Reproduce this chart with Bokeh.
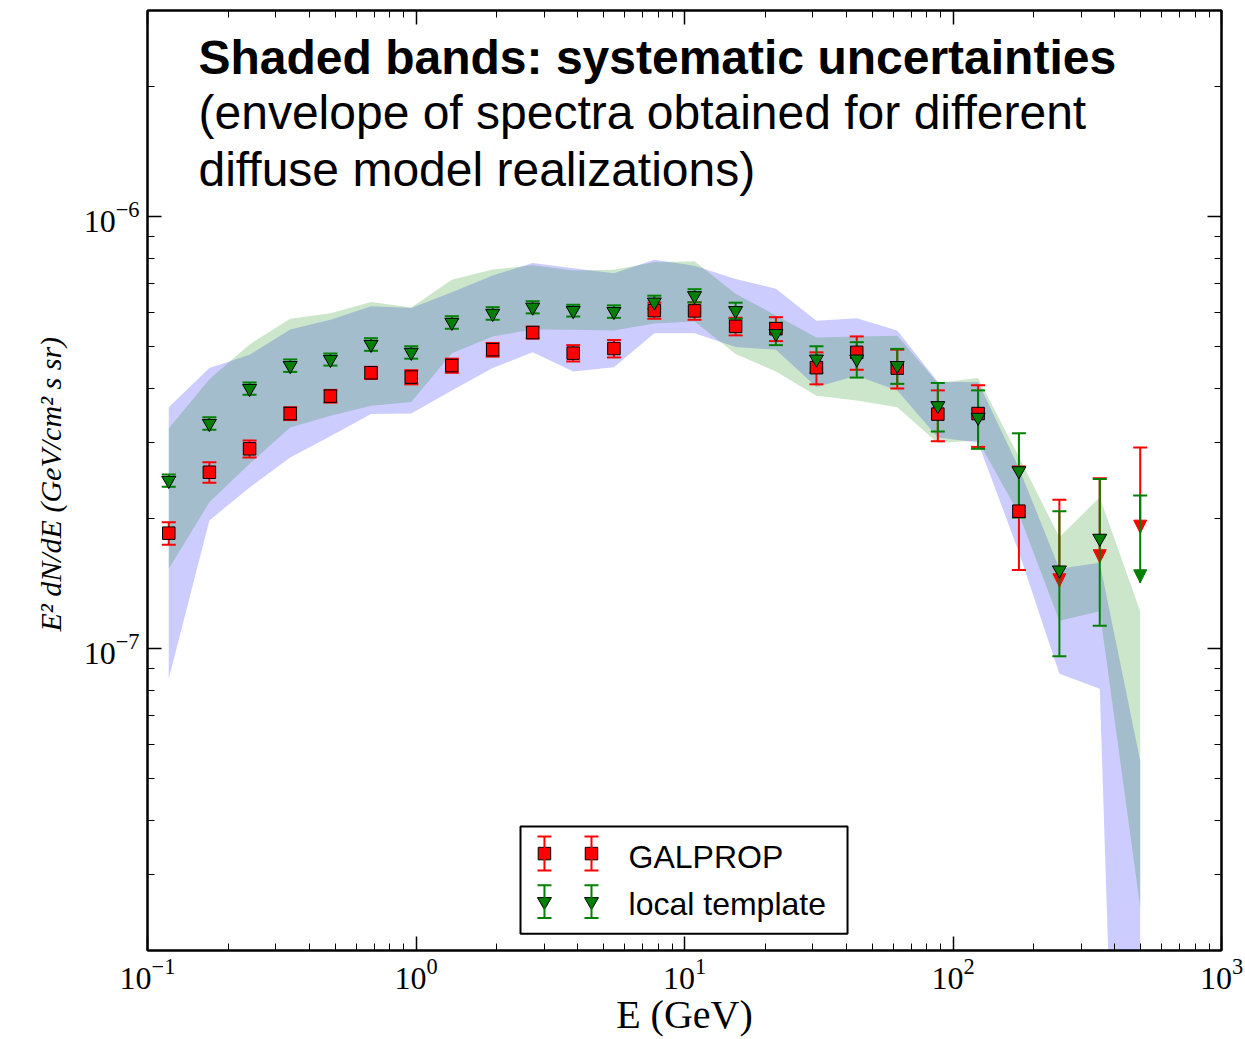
import numpy as np
from bokeh.plotting import figure
from bokeh.models import (ColumnDataSource, Whisker, TeeHead, NormalHead, Label, BoxAnnotation,
                          LogAxis, FixedTicker, CustomJSTickFormatter, Range1d)
from bokeh.embed import file_html
from bokeh.resources import INLINE

# ---------------- data (flux values in units of 1e-7 GeV cm^-2 s^-1 sr^-1) ----------------
FLUX_UNIT = 1e-7
energy = [0.12, 0.17, 0.24, 0.34, 0.48, 0.68, 0.96, 1.36, 1.93, 2.72, 3.85, 5.46, 7.72,
          10.9, 15.5, 21.9, 31.0, 43.8, 62.0, 87.8, 124.0, 176.0, 249.0, 352.0, 498.0]

# GALPROP data points (first 22 bins) + upper limits (last 3 bins)
galprop_flux = [1.85, 2.56, 2.90, 3.50, 3.84, 4.35, 4.25, 4.52, 4.92, 5.39, 4.83, 4.95, 6.06,
                6.05, 5.57, 5.50, 4.47, 4.85, 4.46, 3.49, 3.50, 2.08]
galprop_err = [0.11, 0.14, 0.13, 0.12, 0.13, 0.14, 0.16, 0.17, 0.18, 0.17, 0.21, 0.23, 0.26,
               0.28, 0.26, 0.35, 0.38, 0.43, 0.46, 0.47, 0.57, 0.56]
galprop_ul_energy = [249.0, 352.0, 498.0]
galprop_ul = [2.21, 2.48, 2.92]
galprop_ul_tip = [1.39, 1.58, 1.85]

# local template data points (first 24 bins) + upper limit (last bin)
local_flux = [2.45, 3.32, 4.00, 4.52, 4.67, 5.06, 4.85, 5.69, 5.97, 6.17, 6.06, 6.03, 6.34,
              6.56, 6.06, 5.36, 4.68, 4.68, 4.52, 3.65, 3.43, 2.58, 1.52, 1.80]
local_err = [0.08, 0.11, 0.13, 0.15, 0.15, 0.17, 0.16, 0.19, 0.20, 0.20, 0.19, 0.20, 0.22,
             0.23, 0.26, 0.32, 0.33, 0.44, 0.42, 0.47, 0.53, 0.57, 0.56, 0.67]
local_ul_energy = [498.0]
local_ul = [2.26]
local_ul_tip = [1.42]

# systematic bands (envelopes)
galprop_band_hi = [3.62, 4.46, 4.79, 5.48, 5.77, 6.20, 6.14, 6.68, 7.31, 7.81, 7.59, 7.39, 7.94,
                   7.70, 7.17, 6.81, 5.74, 5.82, 5.45, 4.14, 4.14, 2.62, 1.53, 1.58, 0.55]
galprop_band_lo = [0.851, 1.98, 2.36, 2.77, 3.10, 3.49, 3.50, 3.96, 4.46, 4.85, 4.38, 4.48, 5.37,
                   5.37, 4.99, 4.92, 4.03, 4.28, 3.96, 3.08, 3.00, 1.67, 0.874, 0.807, 0.001]
local_band_hi = [3.23, 4.20, 5.06, 5.80, 5.97, 6.34, 6.16, 7.14, 7.54, 7.72, 7.50, 7.53, 7.84,
                 7.88, 6.63, 5.90, 5.25, 5.28, 5.30, 4.12, 4.23, 2.78, 1.81, 2.24, 1.22]
local_band_lo = [1.53, 2.18, 2.68, 3.25, 3.46, 3.65, 3.72, 4.83, 5.28, 5.48, 5.47, 5.45, 5.66,
                 5.72, 4.81, 4.38, 3.85, 3.75, 3.62, 2.99, 3.03, 2.05, 1.16, 1.22, 0.252]

series_names = ["GALPROP", "local template"]
title_lines = ["Shaded bands: systematic uncertainties",
               "(envelope of spectra obtained for different",
               "diffuse model realizations)"]
x_major = [0.1, 1.0, 10.0, 100.0, 1000.0]
y_major = [1e-7, 1e-6]

X_MIN, X_MAX = 0.1, 1000.0
Y_MIN, Y_MAX = 2e-8, 3e-6

# ---------------- helpers (axis-fraction -> data, for layout items) ----------------
LX0, LX1 = np.log10(X_MIN), np.log10(X_MAX)
LY0, LY1 = np.log10(Y_MIN), np.log10(Y_MAX)


def fx(f):
    return 10 ** (LX0 + f * (LX1 - LX0))


def fy(f):
    return 10 ** (LY0 + f * (LY1 - LY0))


def scaled(vals):
    return list(np.array(vals, dtype=float) * FLUX_UNIT)


RED = "red"
GREEN = "green"
SERIF = "Liberation Serif"
SANS = "Liberation Sans"

p = figure(width=1245, height=1039, x_axis_type="log", y_axis_type="log",
           x_range=Range1d(X_MIN, X_MAX), y_range=Range1d(Y_MIN, Y_MAX),
           output_backend="svg", toolbar_location=None,
           min_border_left=147, min_border_right=24, min_border_top=10, min_border_bottom=89)
p.background_fill_color = "white"
p.border_fill_color = "white"
p.outline_line_color = "black"
p.outline_line_width = 2
p.grid.visible = False

# extra axes (ticks only) on top and right
p.add_layout(LogAxis(formatter=CustomJSTickFormatter(code="return ''")), "above")
p.add_layout(LogAxis(formatter=CustomJSTickFormatter(code="return ''")), "right")

x_minor = [m * 10.0 ** k for k in range(-1, 3) for m in range(2, 10)]
y_minor = [m * 10.0 ** k for k in range(-8, -5) for m in range(2, 10)]
for ax in p.xaxis:
    ax.ticker = FixedTicker(ticks=x_major, minor_ticks=x_minor)
for ax in p.yaxis:
    ax.ticker = FixedTicker(ticks=y_major, minor_ticks=y_minor)
for ax in list(p.xaxis) + list(p.yaxis):
    ax.major_tick_in = 14
    ax.major_tick_out = 0
    ax.minor_tick_in = 7
    ax.minor_tick_out = 0
    ax.major_tick_line_width = 1.5
    ax.minor_tick_line_width = 1
    ax.axis_line_width = 2
    ax.axis_line_color = "black"
    ax.major_tick_line_color = "black"
    ax.minor_tick_line_color = "black"
    ax.major_label_text_font = SERIF
    ax.major_label_text_font_size = "32px"
    ax.major_label_text_color = "black"

bx = p.below[0]
bx.major_label_standoff = 8
bx.axis_label = "E (GeV)"
bx.axis_label_text_font = SERIF
bx.axis_label_text_font_size = "40px"
bx.axis_label_text_font_style = "normal"
bx.axis_label_text_color = "black"
bx.axis_label_standoff = 0

ly = p.left[0]
ly.major_label_standoff = 8
ly.axis_label = "E² dN/dE  (GeV/cm² s sr)"
ly.axis_label_text_font = SERIF
ly.axis_label_text_font_size = "30px"
ly.axis_label_text_font_style = "italic"
ly.axis_label_text_color = "black"
ly.axis_label_standoff = 14

# ---------------- systematic bands ----------------
p.varea(x=energy, y1=scaled(galprop_band_lo), y2=scaled(galprop_band_hi),
        fill_color="blue", fill_alpha=0.2, level="image")
p.varea(x=energy, y1=scaled(local_band_lo), y2=scaled(local_band_hi),
        fill_color="green", fill_alpha=0.2, level="image")


# ---------------- error bars ----------------
def add_whiskers(xs, center, err, color):
    c = np.array(center, dtype=float)
    e = np.array(err, dtype=float)
    src = ColumnDataSource(dict(x=list(xs), upper=list((c + e) * FLUX_UNIT),
                                lower=list((c - e) * FLUX_UNIT)))
    w = Whisker(source=src, base="x", upper="upper", lower="lower", dimension="height",
                line_color=color, line_width=2, level="underlay",
                upper_head=TeeHead(size=14, line_color=color, line_width=2),
                lower_head=TeeHead(size=14, line_color=color, line_width=2))
    p.add_layout(w)


def add_upper_limits(xs, ul, tip, color):
    src = ColumnDataSource(dict(x=list(xs), upper=scaled(ul), lower=scaled(tip)))
    w = Whisker(source=src, base="x", upper="upper", lower="lower", dimension="height",
                line_color=color, line_width=2, level="underlay",
                upper_head=TeeHead(size=14, line_color=color, line_width=2),
                lower_head=NormalHead(size=13, fill_color=color, line_color=color, line_width=1))
    p.add_layout(w)


n_gal = len(galprop_flux)
n_loc = len(local_flux)
add_whiskers(energy[:n_gal], galprop_flux, galprop_err, RED)
add_upper_limits(galprop_ul_energy, galprop_ul, galprop_ul_tip, RED)
add_whiskers(energy[:n_loc], local_flux, local_err, GREEN)
add_upper_limits(local_ul_energy, local_ul, local_ul_tip, GREEN)

# ---------------- markers ----------------
p.scatter(x=energy[:n_gal], y=scaled(galprop_flux), marker="square", size=12.5,
          fill_color=RED, line_color="black", line_width=1)
p.scatter(x=energy[:n_loc], y=scaled(local_flux), marker="inverted_triangle", size=14,
          fill_color=GREEN, line_color="black", line_width=1)

# ---------------- annotation text ----------------
title_y = [0.950, 0.892, 0.831]
for i, (txt, fyv) in enumerate(zip(title_lines, title_y)):
    p.add_layout(Label(x=fx(0.0475), y=fy(fyv), text=txt, text_font=SANS,
                       text_font_size="48px", text_font_style="bold" if i == 0 else "normal",
                       text_color="black", text_baseline="alphabetic", text_align="left"))

# ---------------- legend (drawn manually) ----------------
p.add_layout(BoxAnnotation(left=fx(0.3473), right=fx(0.6518), bottom=fy(0.0178), top=fy(0.1320),
                           fill_color="white", fill_alpha=1.0, line_color="black",
                           line_alpha=1.0, line_width=2, level="annotation"))
leg_x = [fx(0.3696), fx(0.4134)]
rows = [
    dict(name=series_names[0], yc=0.1031, half=0.0181, color=RED, marker="square", size=12.5,
         ty=0.0990),
    dict(name=series_names[1], yc=0.0520, half=0.0174, color=GREEN, marker="inverted_triangle",
         size=14, ty=0.0500),
]
for r in rows:
    yc = fy(r["yc"])
    src = ColumnDataSource(dict(x=leg_x, upper=[fy(r["yc"] + r["half"])] * 2,
                                lower=[fy(r["yc"] - r["half"])] * 2))
    p.add_layout(Whisker(source=src, base="x", upper="upper", lower="lower", dimension="height",
                         line_color=r["color"], line_width=2, level="overlay",
                         upper_head=TeeHead(size=14, line_color=r["color"], line_width=2),
                         lower_head=TeeHead(size=14, line_color=r["color"], line_width=2)))
    p.scatter(x=leg_x, y=[yc, yc], marker=r["marker"], size=r["size"], fill_color=r["color"],
              line_color="black", line_width=1, level="overlay")
    p.add_layout(Label(x=fx(0.4479), y=fy(r["ty"]), text=r["name"], text_font=SANS,
                       text_font_size="32px", text_color="black", text_baseline="alphabetic",
                       level="overlay"))

open("out.html", "w").write(file_html(p, INLINE))
